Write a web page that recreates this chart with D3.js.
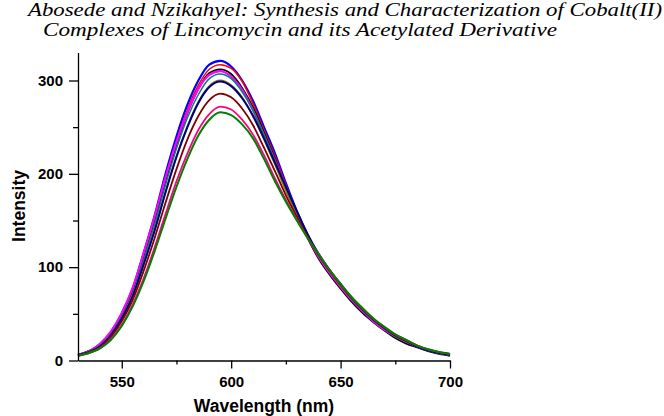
<!DOCTYPE html>
<html>
<head>
<meta charset="utf-8">
<script src="https://cdn.jsdelivr.net/npm/d3@7"></script>
<style>
    body { margin: 0; background: #fff; }
    svg { display: block; }
</style>
</head>
<body>
<svg id="chart"></svg>
<script>
// wavelength grid (nm), one reading every 5 nm
const wavelengths = [530, 535, 540, 545, 550, 555, 560, 565, 570, 575, 580, 585, 590, 595, 600, 605, 610, 615, 620, 625, 630, 635, 640, 645, 650, 655, 660, 665, 670, 675, 680, 685, 690, 695, 700];

// intensity of each trace
const blueValues    = [6, 10, 17, 30, 50, 77, 115, 155, 200, 240, 274, 300, 317, 321, 315, 300, 278, 250, 222, 190, 160, 134, 112, 95, 80, 66, 54, 43, 34, 26, 20, 15, 11, 8, 6];
const redValues     = [6, 10, 17, 29, 49, 75, 112, 152, 196, 235, 269, 295, 312, 317, 313, 299, 275, 247, 219, 188, 159, 134, 112, 95, 80, 66, 54, 43, 34, 26, 20, 15, 11, 8, 6];
const blackValues   = [6, 10, 16, 29, 48, 74, 110, 149, 192, 231, 265, 291, 308, 312, 307, 292, 271, 244, 216, 185, 156, 131, 109, 92, 77, 63, 51, 41, 32, 24, 18, 14, 10, 7, 5];
const magentaValues = [6, 10, 18, 31, 51, 78, 115, 154, 196, 234, 266, 291, 306, 310, 304, 290, 268, 241, 214, 185, 157, 132, 111, 94, 79, 65, 53, 42, 33, 26, 20, 15, 11, 8, 6];
const tealValues    = [6, 10, 16, 28, 47, 72, 108, 146, 188, 227, 260, 285, 302, 307, 302, 288, 268, 242, 214, 185, 158, 133, 112, 95, 80, 66, 54, 43, 34, 26, 20, 15, 11, 8, 6];
const oliveValues   = [6, 9, 15, 27, 45, 70, 103, 140, 181, 219, 251, 277, 294, 300, 295, 282, 262, 237, 210, 182, 156, 133, 113, 96, 81, 67, 55, 44, 35, 27, 21, 15, 11, 8, 6];
const navyValues    = [6, 9, 15, 27, 45, 69, 103, 139, 180, 218, 250, 276, 293, 299, 294, 281, 262, 238, 212, 186, 160, 135, 114, 97, 82, 67, 55, 44, 35, 27, 21, 15, 11, 8, 6];
const maroonValues  = [5, 9, 14, 25, 42, 65, 96, 131, 169, 205, 237, 262, 279, 286, 282, 270, 252, 228, 203, 177, 154, 132, 113, 96, 81, 67, 55, 44, 35, 27, 21, 16, 12, 9, 7];
const pinkValues    = [5, 8, 13, 23, 38, 60, 88, 121, 157, 192, 222, 247, 264, 272, 269, 258, 242, 220, 195, 172, 151, 131, 114, 97, 82, 68, 56, 45, 36, 28, 22, 16, 12, 9, 7];
const greenValues   = [5, 8, 13, 22, 37, 58, 85, 117, 152, 186, 216, 241, 258, 266, 263, 253, 238, 216, 192, 170, 150, 131, 114, 97, 82, 68, 56, 45, 36, 28, 22, 16, 12, 9, 7];

// tick labels
const xTickValues = [550, 600, 650, 700];
const xMinorTicks = [575, 625, 675];
const yTickValues = [0, 100, 200, 300];
const yMinorTicks = [50, 150, 250];

const titleLines = [
    "Abosede and Nzikahyel: Synthesis and Characterization of Cobalt(II)",
    "Complexes of Lincomycin and its Acetylated Derivative"
];

// traces in drawing order
const traces = [
    {values: blueValues,    color: "#0000FF", width: 2.2},
    {values: redValues,     color: "#FF0000", width: 1.5},
    {values: blackValues,   color: "#000000", width: 1.8},
    {values: magentaValues, color: "#FF00FF", width: 2.2},
    {values: tealValues,    color: "#008080", width: 1.5},
    {values: oliveValues,   color: "#808000", width: 1.8},
    {values: navyValues,    color: "#000080", width: 2},
    {values: maroonValues,  color: "#800000", width: 1.8},
    {values: pinkValues,    color: "#FF0080", width: 1.8},
    {values: greenValues,   color: "#008000", width: 2}
];

var width = 664;
var height = 416;

var svg = d3.select("#chart")
    .attr("width", width)
    .attr("height", height);

// title, two italic serif lines
svg.append("text")
    .attr("x", 28)
    .attr("y", 16)
    .attr("textLength", 634)
    .attr("lengthAdjust", "spacingAndGlyphs")
    .attr("font-family", "Liberation Serif")
    .attr("font-style", "italic")
    .attr("font-size", 18)
    .text(titleLines[0]);

svg.append("text")
    .attr("x", 43)
    .attr("y", 36)
    .attr("textLength", 514)
    .attr("lengthAdjust", "spacingAndGlyphs")
    .attr("font-family", "Liberation Serif")
    .attr("font-style", "italic")
    .attr("font-size", 18)
    .text(titleLines[1]);

const x = d3.scaleLinear()
    .domain([530, 700])
    .range([78, 450]);

const y = d3.scaleLinear()
    .domain([0, 330])
    .range([360.5, 52.5]);

const line = d3.line()
    .x((d, i) => x(wavelengths[i]))
    .y(d => y(d))
    .curve(d3.curveMonotoneX);

const plot = svg.append("g").attr("class", "traces");

traces.forEach(function(t) {
    plot.append("path")
        .datum(t.values)
        .attr("fill", "none")
        .attr("stroke", t.color)
        .attr("stroke-width", t.width)
        .attr("stroke-linejoin", "round")
        .attr("d", line);
});

// axes
svg.append("g")
    .attr("transform", "translate(0," + y(0) + ")")
    .call(d3.axisBottom(x).tickValues(xTickValues).tickSize(8).tickSizeOuter(0).tickPadding(8));

svg.append("g")
    .attr("transform", "translate(0," + y(0) + ")")
    .call(d3.axisBottom(x).tickValues(xMinorTicks).tickSize(4).tickSizeOuter(0).tickFormat(""))
    .select(".domain").remove();

svg.append("g")
    .attr("transform", "translate(" + x(530) + ",0)")
    .call(d3.axisLeft(y).tickValues(yTickValues).tickSize(9).tickSizeOuter(0).tickPadding(6));

svg.append("g")
    .attr("transform", "translate(" + x(530) + ",0)")
    .call(d3.axisLeft(y).tickValues(yMinorTicks).tickSize(5).tickSizeOuter(0).tickFormat(""))
    .select(".domain").remove();

svg.selectAll(".domain, .tick line")
    .attr("stroke", "#000")
    .attr("stroke-width", 1.3);

svg.selectAll(".tick text")
    .attr("fill", "#000")
    .style("font-family", "'Liberation Sans', Arial, sans-serif")
    .style("font-weight", "bold")
    .style("font-size", "15px");

// axis titles
svg.append("text")
    .attr("x", 264)
    .attr("y", 412)
    .attr("text-anchor", "middle")
    .style("font-family", "'Liberation Sans', Arial, sans-serif")
    .style("font-weight", "bold")
    .style("font-size", "17.5px")
    .text("Wavelength (nm)");

svg.append("text")
    .attr("transform", "translate(25,206) rotate(-90)")
    .attr("text-anchor", "middle")
    .style("font-family", "'Liberation Sans', Arial, sans-serif")
    .style("font-weight", "bold")
    .style("font-size", "17.5px")
    .text("Intensity");
</script>
</body>
</html>
